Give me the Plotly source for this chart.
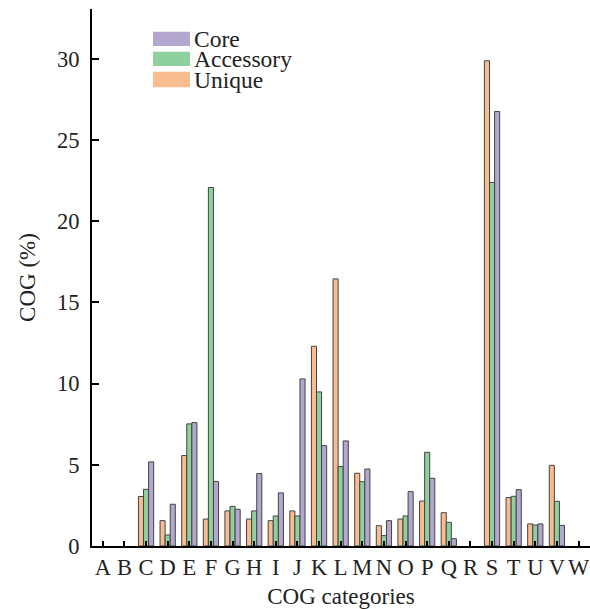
import plotly.graph_objects as go

categories = list("ABCDEFGHIJKLMNOPQRSTUVW")
unique = [None, None, 3.05, 1.56, 5.57, 1.66, 2.16, 1.66, 1.56, 2.16, 12.3, 16.45, 4.48, 1.25, 1.66, 2.77, 2.05, None, 29.88, 2.98, 1.36, 4.97, None]
accessory = [None, None, 3.49, 0.68, 7.52, 22.08, 2.44, 2.16, 1.85, 1.85, 9.49, 4.89, 3.96, 0.64, 1.85, 5.77, 1.46, None, 22.39, 3.06, 1.29, 2.75, None]
core = [None, None, 5.18, 2.57, 7.6, 3.98, 2.26, 4.46, 3.27, 10.29, 6.18, 6.47, 4.74, 1.56, 3.35, 4.17, 0.45, None, 26.76, 3.47, 1.36, 1.27, None]

series_names = ["Unique", "Accessory", "Core"]
series_values = [unique, accessory, core]
colors = {"Core": "#B3A6CF", "Accessory": "#8FD19E", "Unique": "#F8BC91"}
FONT = "Liberation Serif"

fig = go.Figure()
for name, vals in zip(series_names, series_values):
    fig.add_trace(go.Bar(
        x=categories, y=vals, name=name,
        marker=dict(color=colors[name], line=dict(color="#444444", width=1)),
        showlegend=False,
    ))

# manual legend (wide swatches like the reference)
legend_order = ["Core", "Accessory", "Unique"]
rows = [(0.9577, 0.9311), (0.9205, 0.8939), (0.8832, 0.8542)]
for name, (ytop, ybot) in zip(legend_order, rows):
    fig.add_shape(type="rect", xref="paper", yref="paper",
                  x0=0.1225, x1=0.1968, y0=ybot, y1=ytop,
                  fillcolor=colors[name], line=dict(width=0))
    fig.add_annotation(xref="paper", yref="paper", x=0.203, y=(ytop + ybot) / 2,
                       text=name, showarrow=False, xanchor="left", yanchor="middle",
                       borderpad=0,
                       font=dict(family=FONT, size=23.5, color="#222222"))

fig.update_layout(
    width=590, height=609,
    margin=dict(l=92, r=0, t=9, b=63, autoexpand=False),
    plot_bgcolor="white", paper_bgcolor="white",
    barmode="group", bargap=0.295, bargroupgap=0,
    font=dict(family=FONT, size=22.5, color="#222222"),
)
fig.update_xaxes(
    range=[-0.5, 22.53], showline=True, linecolor="black", linewidth=2,
    ticks="inside", ticklen=5, tickwidth=2, tickcolor="black",
    tickmode="array", tickvals=categories, ticktext=categories,
    tickfont=dict(family=FONT, size=22.5), showgrid=False, zeroline=False,
    automargin=False,
    title=dict(text="COG categories", font=dict(family=FONT, size=23)),
)
fig.update_yaxes(
    range=[0, 33.07], showline=True, linecolor="black", linewidth=2,
    ticks="inside", ticklen=7, tickwidth=2, tickcolor="black",
    tickvals=[0, 5, 10, 15, 20, 25, 30], ticklabelstandoff=6,
    tickfont=dict(family=FONT, size=22.5), showgrid=False, zeroline=False,
    automargin=False,
    title=dict(text="COG (%)", font=dict(family=FONT, size=23)),
)

fig.write_html("out.html", config={"displayModeBar": False},
               post_script="document.body.style.margin='0px';document.body.style.overflow='hidden';")
